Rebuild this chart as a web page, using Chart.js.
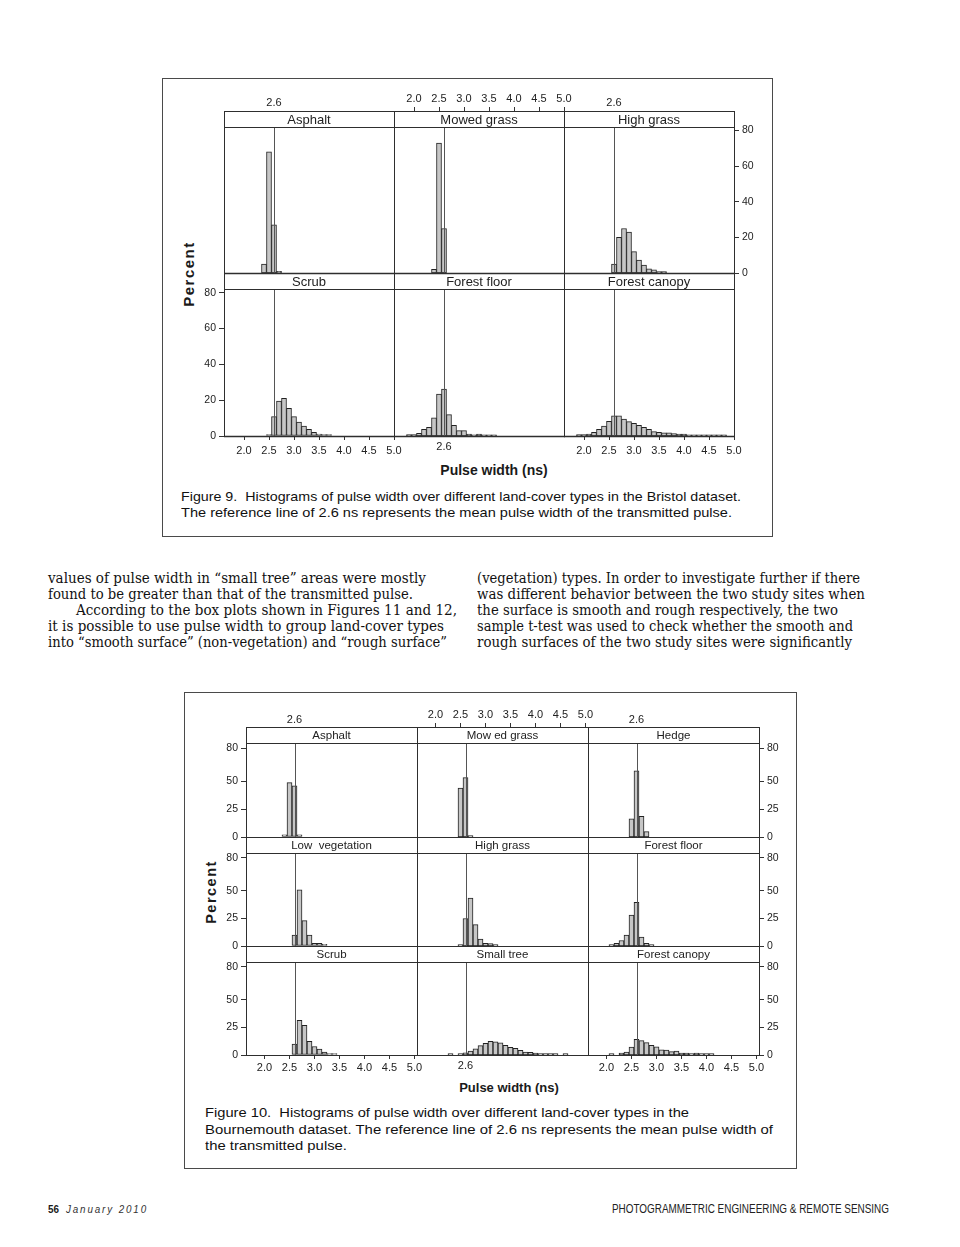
<!DOCTYPE html>
<html>
<head>
<meta charset="utf-8">
<script src="https://cdn.jsdelivr.net/npm/chart.js@4.4.1/dist/chart.umd.min.js"></script>
<style>
html,body{margin:0;padding:0;background:#fff;}
body{width:960px;height:1247px;position:relative;overflow:hidden;font-family:"Liberation Sans",Arial,sans-serif;color:#1a1a1a;}
canvas{position:absolute;}
.box{position:absolute;border:1.5px solid #4a4a4a;box-sizing:border-box;}
.ln{position:absolute;white-space:nowrap;line-height:16px;transform-origin:0 50%;}
.serif{font-family:"DejaVu Serif",serif;font-size:14px;color:#111;}
.cap{font-size:13.5px;color:#111;}
.axt{position:absolute;white-space:nowrap;font-weight:bold;color:#1a1a1a;transform:translate(-50%,-50%);}
.vert{transform:translate(-50%,-50%) rotate(-90deg);letter-spacing:1.5px;}
</style>
</head>
<body>

<div class="box" style="left:162px;top:78px;width:611px;height:459px"></div>
<div class="box" style="left:184px;top:692px;width:613px;height:477px"></div>

<div class="axt vert" style="left:188px;top:274px;font-size:15px">Percent</div>
<div class="axt" style="left:494px;top:470px;font-size:14px">Pulse width (ns)</div>
<div class="axt vert" style="left:211px;top:892px;font-size:14.5px">Percent</div>
<div class="axt" style="left:509px;top:1087px;font-size:13px">Pulse width (ns)</div>

<div class="ln cap" style="left:181px;top:489px" data-w="560">Figure 9.&nbsp; Histograms of pulse width over different land-cover types in the Bristol dataset.</div>
<div class="ln cap" style="left:181px;top:505px" data-w="551">The reference line of 2.6 ns represents the mean pulse width of the transmitted pulse.</div>

<div class="ln serif" style="left:48px;top:570px" data-w="378">values of pulse width in “small tree” areas were mostly</div>
<div class="ln serif" style="left:48px;top:586px" data-w="365">found to be greater than that of the transmitted pulse.</div>
<div class="ln serif" style="left:76px;top:602px" data-w="381">According to the box plots shown in Figures 11 and 12,</div>
<div class="ln serif" style="left:48px;top:618px" data-w="396">it is possible to use pulse width to group land-cover types</div>
<div class="ln serif" style="left:48px;top:634px" data-w="399">into “smooth surface” (non-vegetation) and “rough surface”</div>

<div class="ln serif" style="left:477px;top:570px" data-w="383">(vegetation) types. In order to investigate further if there</div>
<div class="ln serif" style="left:477px;top:586px" data-w="388">was different behavior between the two study sites when</div>
<div class="ln serif" style="left:477px;top:602px" data-w="361">the surface is smooth and rough respectively, the two</div>
<div class="ln serif" style="left:477px;top:618px" data-w="376">sample t-test was used to check whether the smooth and</div>
<div class="ln serif" style="left:477px;top:634px" data-w="375">rough surfaces of the two study sites were significantly</div>

<div class="ln cap" style="left:205px;top:1105px" data-w="484">Figure 10.&nbsp; Histograms of pulse width over different land-cover types in the</div>
<div class="ln cap" style="left:205px;top:1122px" data-w="568">Bournemouth dataset. The reference line of 2.6 ns represents the mean pulse width of</div>
<div class="ln cap" style="left:205px;top:1138px" data-w="142">the transmitted pulse.</div>

<div class="ln" style="left:48px;top:1201px;font-size:11px;font-weight:bold" data-w="11">56</div>
<div class="ln" style="left:66px;top:1201px;font-size:10.5px;font-style:italic;letter-spacing:2px;color:#333" data-w="82">January 2010</div>
<div class="ln" style="left:612px;top:1201px;font-size:12.5px;color:#222" data-w="277">PHOTOGRAMMETRIC ENGINEERING &amp; REMOTE SENSING</div>

<script>
// bin centres (ns), 0.1 ns wide
var BINS = [1.9,2.0,2.1,2.2,2.3,2.4,2.5,2.6,2.7,2.8,2.9,3.0,3.1,3.2,3.3,3.4,3.5,3.6,3.7,3.8,3.9,4.0,4.1,4.2,4.3,4.4,4.5,4.6,4.7,4.8];

// Figure 9 - Bristol (percent per bin)
var bristolPanels = ['Asphalt','Mowed grass','High grass','Scrub','Forest floor','Forest canopy'];
var bristolAsphalt     = [0,0,0,0,0,5,68,27,1,0, 0,0,0,0,0,0,0,0,0,0, 0,0,0,0,0,0,0,0,0,0];
var bristolMowedGrass  = [0,0,0,0,0,2,73,25,0,0, 0,0,0,0,0,0,0,0,0,0, 0,0,0,0,0,0,0,0,0,0];
var bristolHighGrass   = [0,0,0,0,0,0,0,5,20,25, 23,12,7.3,4.5,2.3,1.8,0.8,0.8,0,0, 0,0,0,0,0,0,0,0,0,0];
var bristolScrub       = [0,0,0,0,0,0,0.8,10.8,19.5,21, 15.4,10.8,7.8,5.6,3.7,2,1.1,0.8,0.8,0, 0,0,0,0,0,0,0,0,0,0];
var bristolForestFloor = [0.8,0.8,1.5,3.7,4.8,10.2,23.4,26.2,11.9,6, 3,3,1.1,0.6,1.1,0.6,0.6,0.6,0,0, 0,0,0,0,0,0,0,0,0,0];
var bristolForestCanopy= [0.8,0.8,1.1,2,3.7,5.6,8.2,11.2,11.2,9.5, 8,7.1,6,4.8,3.7,2.4,2,1.7,1.7,1.3, 1.1,1.1,0.6,0.6,0.6,0.6,0.6,0.6,0.6,0.6];

// Figure 10 - Bournemouth
var bournPanels = ['Asphalt','Mow ed grass','Hedge','Low  vegetation','High grass','Forest floor','Scrub','Small tree','Forest canopy'];
var bournAsphalt     = [0,0,0,0,0,2,49,46,2,0, 0,0,0,0,0,0,0,0,0,0, 0,0,0,0,0,0,0,0,0,0];
var bournMowedGrass  = [0,0,0,0,0,0,44,53.5,1.2,0, 0,0,0,0,0,0,0,0,0,0, 0,0,0,0,0,0,0,0,0,0];
var bournHedge       = [0,0,0,0,0,0,16.4,59.5,18.5,4.8, 0,0,0,0,0,0,0,0,0,0, 0,0,0,0,0,0,0,0,0,0];
var bournLowVeg      = [0,0,0,0,0,0,0,10,51,23, 10,2.4,2.4,1.5,0,0,0,0,0,0, 0,0,0,0,0,0,0,0,0,0];
var bournHighGrass   = [0,0,0,0,0,0,1.2,25,43.5,19.4, 6.3,2.4,2.1,1.2,0,0,0,0,0,0, 0,0,0,0,0,0,0,0,0,0];
var bournForestFloor = [0,0,1.2,2.4,5,10,28,39.6,8,2.4, 1.2,0,0,0,0,0,0,0,0,0, 0,0,0,0,0,0,0,0,0,0];
var bournScrub       = [0,0,0,0,0,0,0,10,31.5,27, 12.5,7.7,5.4,2.7,1.2,1.2,0,0,0,0, 0,0,0,0,0,0,0,0,0,0];
var bournSmallTree   = [0,0,0,0,1.2,0,1.2,2,3.5,5.5, 8.5,10.5,12.5,12,11,8.7,7,6,4.2,2.7, 2.4,1.8,1.2,1.2,1.2,1.2,0,1.2,0,0];
var bournForestCanopy= [0,0,1.2,0,1.8,2.7,7.1,14.3,13,11.3, 8.7,7.4,4.8,4.5,3,3.6,1.8,1.8,1.2,1.8, 1.2,1.2,1.2,0,0,0,0,0,0,0];

var xTicks = [2.0,2.5,3.0,3.5,4.0,4.5,5.0];
var refTicks = [2.6];
var bristolYTicks = [0,20,40,60,80];
var bournYTicks = [0,25,50,80];
var REF = 2.6;

var M = {l:45, r:45, t:35, b:35};

var fig9 = {cols:[224,394,564,734], rows:[111,273,436], xmin:1.6, xmax:5.0, ymax:91, strip:16, stripFont:13,
  yTicks:bristolYTicks, left:function(r,c){return c===0&&r===1;}, right:function(r,c){return c===2&&r===0;},
  pad:{topNum:1, topRef:1, botNum:4, botRef:4}, base:1.6};
var fig10 = {cols:[246,417,588,759], rows:[727,837,946,1055], xmin:1.63, xmax:5.05, ymax:99, strip:16, stripFont:11.5,
  yTicks:bournYTicks, left:function(r,c){return c===0;}, right:function(r,c){return c===2;},
  pad:{topNum:1, topRef:0, botNum:2, botRef:4}, base:1};

var framePlugin = {
  id:'frame',
  afterDraw:function(chart, args, o){
    var ctx = chart.ctx, a = chart.chartArea;
    var x = Math.round(chart.scales.x.getPixelForValue(REF)) + 0.5;
    ctx.save();
    ctx.lineWidth = 1;
    ctx.strokeStyle = '#555';
    ctx.beginPath(); ctx.moveTo(x, a.top + o.strip); ctx.lineTo(x, a.bottom); ctx.stroke();
    ctx.strokeStyle = '#2e2e2e';
    ctx.beginPath();
    ctx.moveTo(a.left+0.5, a.top); ctx.lineTo(a.left+0.5, a.bottom+1);
    ctx.moveTo(a.right+0.5, a.top); ctx.lineTo(a.right+0.5, a.bottom+1);
    ctx.moveTo(a.left, a.top+0.5); ctx.lineTo(a.right+1, a.top+0.5);
    ctx.moveTo(a.left, a.top+o.strip+0.5); ctx.lineTo(a.right+1, a.top+o.strip+0.5);
    ctx.stroke();
    ctx.lineWidth = o.base;
    ctx.beginPath(); ctx.moveTo(a.left, a.bottom+0.5); ctx.lineTo(a.right+1, a.bottom+0.5); ctx.stroke();
    ctx.fillStyle = '#222';
    ctx.font = o.font + 'px "Liberation Sans", Arial, sans-serif';
    ctx.textAlign = 'center'; ctx.textBaseline = 'middle';
    ctx.fillText(o.label, (a.left+a.right)/2, a.top + o.strip/2 + 1);
    ctx.restore();
  }
};

function xAxis(pos, mode, fig){
  var pad = pos==='top' ? (mode==='num'?fig.pad.topNum:fig.pad.topRef) : (mode==='num'?fig.pad.botNum:fig.pad.botRef);
  return {
    type:'linear', position:pos, min:fig.xmin, max:fig.xmax, offset:false,
    afterFit:function(s){ s.height = pos==='top'?M.t:M.b; },
    afterBuildTicks:function(s){ s.ticks = (mode==='ref'?refTicks:xTicks).map(function(v){return {value:v};}); },
    ticks:{display:mode!=='none', autoSkip:false, maxRotation:0, minRotation:0, padding:pad, color:'#222',
      font:{size:11}, callback:function(v){return Number(v).toFixed(1);}},
    grid:{display:mode==='num', drawOnChartArea:false, drawTicks:mode==='num', tickLength:4, color:'#333', offset:false},
    border:{display:false}
  };
}

function yAxis(pos, on, fig){
  return {
    type:'linear', position:pos, min:0, max:fig.ymax,
    afterFit:function(s){ s.width = pos==='left'?M.l:M.r; },
    afterBuildTicks:function(s){ s.ticks = fig.yTicks.map(function(v){return {value:v};}); },
    ticks:{display:on, padding:3, color:'#222', font:{size:10.5}},
    grid:{display:on, drawOnChartArea:false, drawTicks:on, tickLength:5, color:'#333'},
    border:{display:false}
  };
}

function panel(fig, r, c, label, values){
  var L = fig.cols[c], R = fig.cols[c+1], T = fig.rows[r], B = fig.rows[r+1];
  var cv = document.createElement('canvas');
  cv.width = R - L + M.l + M.r;
  cv.height = B - T + M.t + M.b;
  cv.style.left = (L - M.l) + 'px';
  cv.style.top = (T - M.t) + 'px';
  document.body.appendChild(cv);
  var lastRow = r === fig.rows.length - 2;
  var topMode = r===0 ? (c===1?'num':'ref') : 'none';
  var botMode = lastRow ? (c===1?'ref':'num') : 'none';
  new Chart(cv, {
    type:'bar',
    data:{datasets:[{
      data:BINS.map(function(b,i){return {x:b, y:values[i]};}),
      xAxisID:'x', yAxisID:'y',
      backgroundColor:'#c6c6c6', borderColor:'#222', borderWidth:1, borderSkipped:false,
      barPercentage:1, categoryPercentage:1
    }]},
    options:{
      responsive:false, animation:false, events:[],
      layout:{padding:0},
      plugins:{legend:{display:false}, tooltip:{enabled:false},
        frame:{label:label, strip:fig.strip, font:fig.stripFont, base:fig.base}},
      scales:{
        x:xAxis('bottom', botMode, fig),
        x2:xAxis('top', topMode, fig),
        y:yAxis('left', fig.left(r,c), fig),
        y2:yAxis('right', fig.right(r,c), fig)
      }
    },
    plugins:[framePlugin]
  });
}

var bristolData = [bristolAsphalt, bristolMowedGrass, bristolHighGrass, bristolScrub, bristolForestFloor, bristolForestCanopy];
bristolData.forEach(function(v, i){ panel(fig9, Math.floor(i/3), i%3, bristolPanels[i], v); });

var bournData = [bournAsphalt, bournMowedGrass, bournHedge, bournLowVeg, bournHighGrass, bournForestFloor, bournScrub, bournSmallTree, bournForestCanopy];
bournData.forEach(function(v, i){ panel(fig10, Math.floor(i/3), i%3, bournPanels[i], v); });

// stretch text lines to the widths measured on the page
document.querySelectorAll('[data-w]').forEach(function(el){
  var w = el.getBoundingClientRect().width;
  if (w > 0) el.style.transform = 'scaleX(' + (parseFloat(el.dataset.w) / w) + ')';
});
</script>
</body>
</html>
